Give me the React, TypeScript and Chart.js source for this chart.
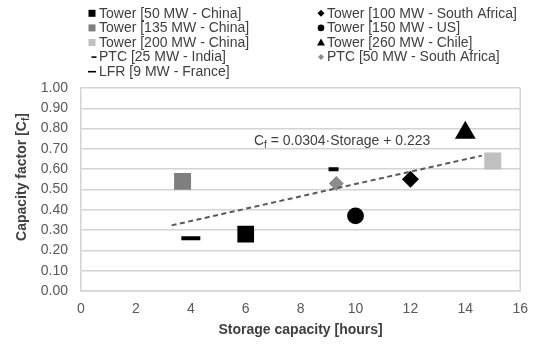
import React, { useEffect, useRef } from 'react';
import { Chart, registerables } from 'chart.js';

Chart.register(...registerables);

// Plants: installed storage vs. capacity factor
const seriesNames = [
  'Tower [50 MW - China]',
  'Tower [100 MW - South Africa]',
  'Tower [135 MW - China]',
  'Tower [150 MW - US]',
  'Tower [200 MW - China]',
  'Tower [260 MW - Chile]',
  'PTC [25 MW - India]',
  'PTC [50 MW - South Africa]',
  'LFR [9 MW - France]',
];
const storageHours = [6, 12, 3.7, 10, 15, 14, 9.2, 9.3, 4];
const capacityFactors = [0.28, 0.55, 0.54, 0.37, 0.64, 0.78, 0.6, 0.53, 0.26];

// Linear fit shown on the chart
const trendSlope = 0.0304;
const trendIntercept = 0.223;
const trendRange = [3.3, 14.6];

const xTickValues = [0, 2, 4, 6, 8, 10, 12, 14, 16];
const yTickValues = [0, 0.1, 0.2, 0.3, 0.4, 0.5, 0.6, 0.7, 0.8, 0.9, 1.0];

// Marker appearance per series
const markerStyles = ['rect', 'rectRot', 'rect', 'circle', 'rect', 'triangle', 'line', 'rectRot', 'line'];
const markerColors = ['#000000', '#000000', '#7f7f7f', '#000000', '#c0c0c0', '#000000', '#000000', '#8c8c8c', '#000000'];
const markerRadius = [11.8, 8.5, 12, 8.4, 12, 12, 5, 7.5, 9.5];

const FONT = "'Liberation Sans', Arial, sans-serif";

function drawLegendMarker(ctx: CanvasRenderingContext2D, style: string, color: string, x: number, y: number, wide: boolean) {
  ctx.save();
  ctx.fillStyle = color;
  ctx.strokeStyle = color;
  if (style === 'rect') {
    ctx.fillRect(x - 3.5, y - 3.5, 7, 7);
  } else if (style === 'rectRot') {
    const r = color === '#000000' ? 3.5 : 3;
    ctx.beginPath();
    ctx.moveTo(x, y - r);
    ctx.lineTo(x + r, y);
    ctx.lineTo(x, y + r);
    ctx.lineTo(x - r, y);
    ctx.closePath();
    ctx.fill();
  } else if (style === 'circle') {
    ctx.beginPath();
    ctx.arc(x, y, 3.3, 0, Math.PI * 2);
    ctx.fill();
  } else if (style === 'triangle') {
    ctx.beginPath();
    ctx.moveTo(x, y - 4);
    ctx.lineTo(x + 4, y + 3);
    ctx.lineTo(x - 4, y + 3);
    ctx.closePath();
    ctx.fill();
  } else if (style === 'line') {
    ctx.lineWidth = 1.6;
    ctx.beginPath();
    const half = wide ? 4 : 2.5;
    ctx.moveTo(x - half, y);
    ctx.lineTo(x + half, y);
    ctx.stroke();
  }
  ctx.restore();
}

const decorations = {
  id: 'decorations',
  afterDraw(chart: any) {
    const ctx: CanvasRenderingContext2D = chart.ctx;
    const area = chart.chartArea;
    const xs = chart.scales.x;
    const ys = chart.scales.y;

    // right-hand frame line of the plot area
    ctx.save();
    ctx.strokeStyle = '#d4d4d4';
    ctx.lineWidth = 1.5;
    ctx.beginPath();
    ctx.moveTo(area.right, area.top);
    ctx.lineTo(area.right, area.bottom);
    ctx.stroke();
    ctx.restore();

    // legend in two columns
    ctx.save();
    ctx.font = `14px ${FONT}`;
    ctx.fillStyle = '#404040';
    ctx.textBaseline = 'middle';
    ctx.textAlign = 'left';
    const colMarkerX = [92, 321];
    const colTextX = [99, 327];
    seriesNames.forEach((name, i) => {
      const col = i % 2;
      const row = Math.floor(i / 2);
      const y = 13.3 + row * 14.6;
      const markerX = markerStyles[i] === 'line' && i === 6 ? colMarkerX[col] + 2 : colMarkerX[col];
      drawLegendMarker(ctx, markerStyles[i], markerColors[i], markerX, y, i === 8);
      ctx.fillText(name, colTextX[col], y + 0.5);
    });
    ctx.restore();

    // trend line equation
    ctx.save();
    ctx.fillStyle = '#404040';
    ctx.textBaseline = 'middle';
    ctx.textAlign = 'left';
    let ex = xs.getPixelForValue(6.3);
    const ey = ys.getPixelForValue(0.74);
    ctx.font = `14px ${FONT}`;
    ctx.fillText('C', ex, ey);
    ex += ctx.measureText('C').width;
    ctx.font = `10px ${FONT}`;
    ctx.fillText('f', ex, ey + 4);
    ex += ctx.measureText('f').width;
    ctx.font = `14px ${FONT}`;
    ctx.fillText(` = ${trendSlope}\u00b7Storage + ${trendIntercept}`, ex, ey);
    ctx.restore();

    // axis titles
    ctx.save();
    ctx.fillStyle = '#404040';
    ctx.textBaseline = 'middle';
    ctx.textAlign = 'center';
    ctx.font = `bold 14px ${FONT}`;
    ctx.fillText('Storage capacity [hours]', (area.left + area.right) / 2, 330);

    ctx.translate(22, 177);
    ctx.rotate(-Math.PI / 2);
    ctx.textAlign = 'left';
    const partA = 'Capacity factor [C';
    const partB = 'f';
    const partC = ']';
    ctx.font = `bold 14px ${FONT}`;
    const wA = ctx.measureText(partA).width;
    const wC = ctx.measureText(partC).width;
    ctx.font = `bold 10px ${FONT}`;
    const wB = ctx.measureText(partB).width;
    let tx = -(wA + wB + wC) / 2;
    ctx.font = `bold 14px ${FONT}`;
    ctx.fillText(partA, tx, 0);
    tx += wA;
    ctx.font = `bold 10px ${FONT}`;
    ctx.fillText(partB, tx, 4);
    tx += wB;
    ctx.font = `bold 14px ${FONT}`;
    ctx.fillText(partC, tx, 0);
    ctx.restore();
  },
};

export default function App() {
  const canvasRef = useRef<HTMLCanvasElement | null>(null);

  useEffect(() => {
    document.body.style.margin = '0';
    const canvas = canvasRef.current;
    if (!canvas) return;

    Chart.defaults.font.family = FONT;

    const pointSets = seriesNames.map((name, i) => ({
      type: 'scatter' as const,
      label: name,
      data: [{ x: storageHours[i], y: capacityFactors[i] }],
      pointStyle: markerStyles[i] as any,
      pointRadius: markerRadius[i],
      backgroundColor: markerColors[i],
      borderColor: markerColors[i],
      pointBorderWidth: markerStyles[i] === 'line' ? 4 : 0,
      order: 1,
    }));

    const trendSet = {
      type: 'line' as const,
      label: 'trend',
      data: trendRange.map((x) => ({ x, y: trendSlope * x + trendIntercept })),
      borderColor: '#595959',
      borderWidth: 2,
      borderDash: [5, 3.5],
      pointRadius: 0,
      fill: false,
      order: 0,
    };

    const chart = new Chart(canvas, {
      type: 'scatter',
      data: { datasets: [...pointSets, trendSet] as any },
      plugins: [decorations],
      options: {
        animation: false,
        responsive: false,
        layout: { padding: { top: 88, right: 10, left: 0, bottom: 0 } },
        plugins: {
          legend: { display: false },
          tooltip: { enabled: false },
        },
        scales: {
          x: {
            type: 'linear',
            min: 0,
            max: 16,
            afterBuildTicks: (scale: any) => {
              scale.ticks = xTickValues.map((v) => ({ value: v }));
            },
            afterFit: (scale: any) => {
              scale.height = 55;
            },
            ticks: {
              color: '#595959',
              font: { size: 14, family: FONT },
              padding: 10,
              callback: (v: any) => String(v),
            },
            grid: { display: false, drawTicks: false },
            border: { display: true, color: '#d4d4d4', width: 1.5 },
          },
          y: {
            type: 'linear',
            min: 0,
            max: 1,
            afterBuildTicks: (scale: any) => {
              scale.ticks = yTickValues.map((v) => ({ value: v }));
            },
            afterFit: (scale: any) => {
              scale.width = 81;
            },
            ticks: {
              color: '#595959',
              font: { size: 14, family: FONT },
              padding: 13,
              callback: (v: any) => Number(v).toFixed(2),
            },
            grid: { color: '#d4d4d4', lineWidth: 1.5, drawTicks: false },
            border: { display: true, color: '#d4d4d4', width: 1.5 },
          },
        },
      },
    });

    return () => chart.destroy();
  }, []);

  return (
    <div style={{ position: 'absolute', left: 0, top: 0, width: 538, height: 346, background: '#ffffff' }}>
      <canvas ref={canvasRef} width={538} height={346} />
    </div>
  );
}
